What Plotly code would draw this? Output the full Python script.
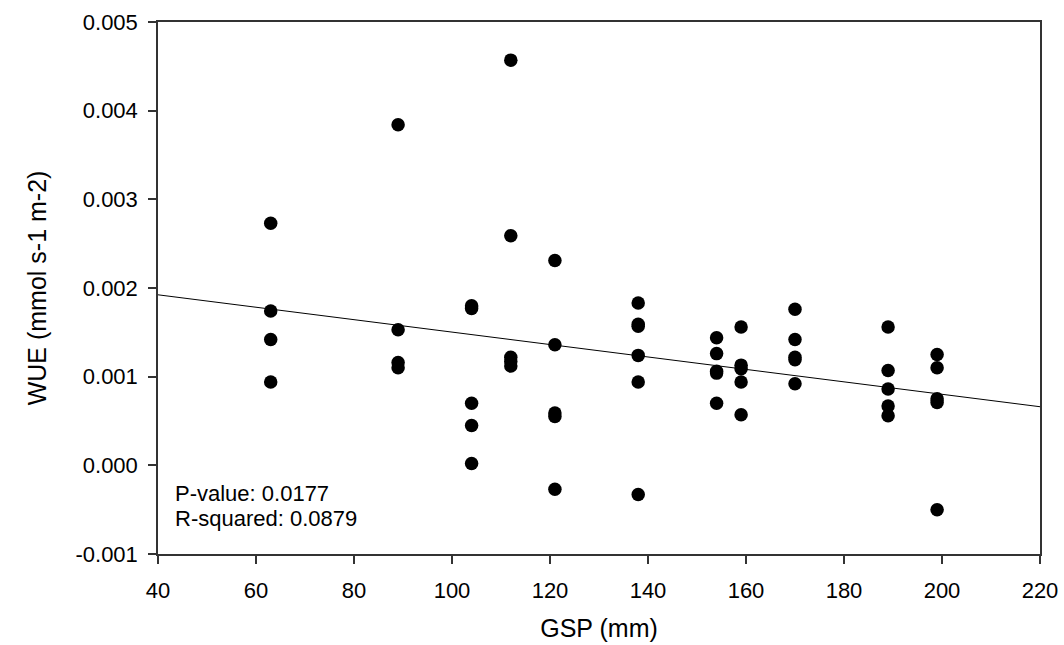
import numpy as np
import plotly.graph_objects as go

# Growing-season precipitation (mm) for each sampled site
gsp = [
    63, 63, 63, 63,
    89, 89, 89, 89,
    104, 104, 104, 104, 104,
    112, 112, 112, 112, 112,
    121, 121, 121, 121, 121,
    138, 138, 138, 138, 138, 138,
    154, 154, 154, 154, 154,
    159, 159, 159, 159, 159,
    170, 170, 170, 170, 170,
    189, 189, 189, 189, 189,
    199, 199, 199, 199, 199,
]

# Water-use efficiency (mmol s-1 m-2)
wue = [
    0.00273, 0.00174, 0.00142, 0.00094,
    0.00384, 0.00153, 0.00116, 0.00110,
    0.00180, 0.00177, 0.00070, 0.00045, 0.00002,
    0.00457, 0.00259, 0.00122, 0.00117, 0.00112,
    0.00231, 0.00136, 0.00059, 0.00055, -0.00027,
    0.00183, 0.00159, 0.00157, 0.00124, 0.00094, -0.00033,
    0.00144, 0.00126, 0.00106, 0.00104, 0.00070,
    0.00156, 0.00113, 0.00109, 0.00094, 0.00057,
    0.00176, 0.00142, 0.00122, 0.00119, 0.00092,
    0.00156, 0.00107, 0.00086, 0.00067, 0.00056,
    0.00125, 0.00110, 0.00075, 0.00071, -0.00050,
]

x_ticks = [40, 60, 80, 100, 120, 140, 160, 180, 200, 220]
y_ticks = [-0.001, 0.000, 0.001, 0.002, 0.003, 0.004, 0.005]
y_tick_text = ["-0.001", "0.000", "0.001", "0.002", "0.003", "0.004", "0.005"]

stats_lines = ["P-value: 0.0177", "R-squared: 0.0879"]

FONT = "Liberation Sans, Arial, sans-serif"

# Least-squares line across the full x range
slope, intercept = np.polyfit(gsp, wue, 1)
fit_x = np.array([x_ticks[0], x_ticks[-1]], dtype=float)
fit_y = intercept + slope * fit_x

fig = go.Figure()

fig.add_trace(go.Scatter(
    x=fit_x, y=fit_y, mode="lines",
    line=dict(color="black", width=1),
    hoverinfo="skip", showlegend=False,
))

fig.add_trace(go.Scatter(
    x=gsp, y=wue, mode="markers",
    marker=dict(color="black", size=13.5, line=dict(width=0)),
    showlegend=False,
))

# Regression statistics in the lower-left corner
for text, yv in zip(stats_lines, [-0.000322, -0.000604]):
    fig.add_annotation(
        x=43.0, y=yv, xref="x", yref="y",
        text=text, showarrow=False,
        xanchor="left", yanchor="middle",
        font=dict(family=FONT, size=22, color="black"),
    )

axis_common = dict(
    showline=True, linecolor="#333333", linewidth=1.5, mirror=True,
    showgrid=False, zeroline=False, automargin=False,
    ticks="outside", ticklen=8, tickwidth=1.5, tickcolor="#333333",
    tickfont=dict(family=FONT, size=22, color="black"),
)

fig.update_xaxes(
    range=[x_ticks[0], x_ticks[-1]],
    tickvals=x_ticks,
    title=dict(text="GSP (mm)", font=dict(family=FONT, size=25, color="black"), standoff=17),
    ticklabelstandoff=8,
    **axis_common,
)

fig.update_yaxes(
    range=[y_ticks[0], y_ticks[-1]],
    tickvals=y_ticks, ticktext=y_tick_text,
    title=dict(text="WUE (mmol s-1 m-2)", font=dict(family=FONT, size=25, color="black"), standoff=22),
    ticklabelstandoff=6,
    **axis_common,
)

fig.update_layout(
    width=1064, height=645,
    margin=dict(l=158, r=24, t=22, b=91),
    paper_bgcolor="white", plot_bgcolor="white",
    font=dict(family=FONT, color="black"),
)

fig.write_html("out.html")
